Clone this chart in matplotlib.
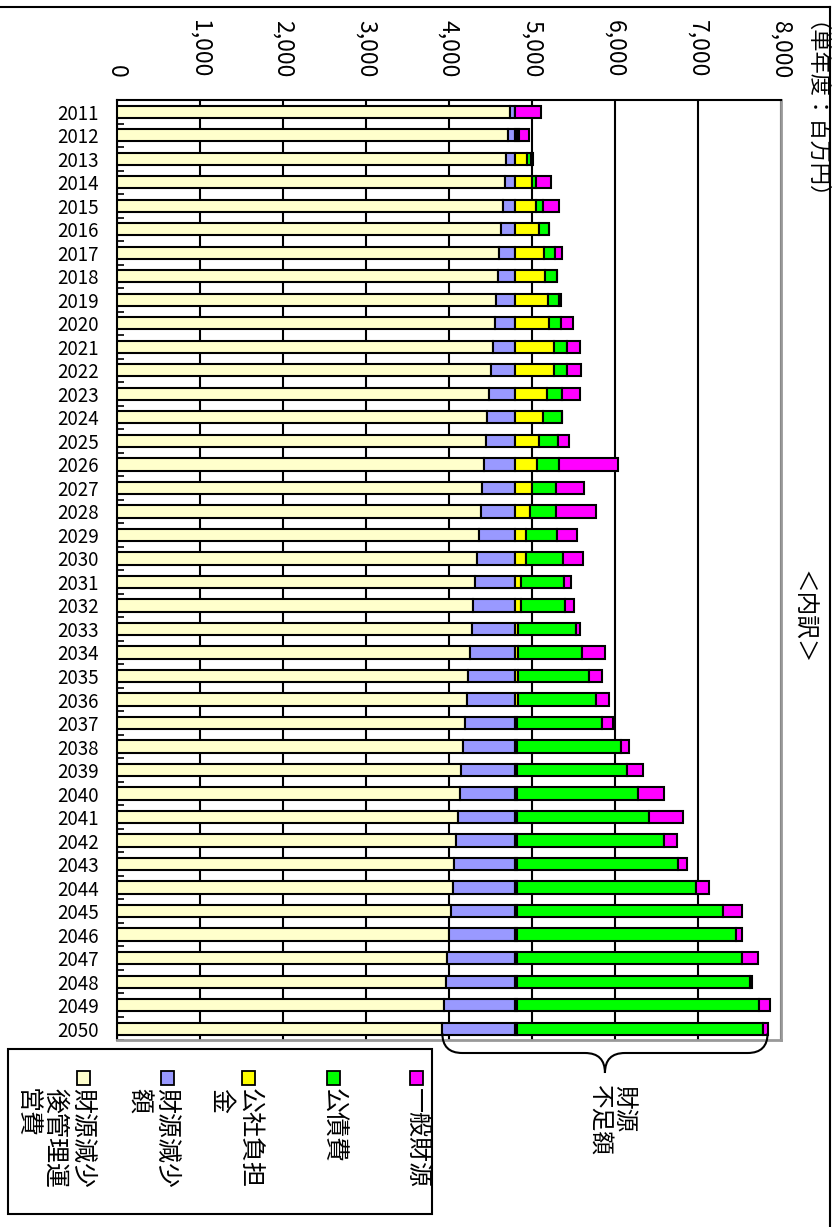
import matplotlib.pyplot as plt
import matplotlib.transforms as mtransforms
import numpy as np
from matplotlib.lines import Line2D
from matplotlib.patches import PathPatch, Rectangle
from matplotlib.path import Path

plt.rcParams["font.family"] = ["Noto Sans CJK JP", "DejaVu Sans"]

years = list(range(2011, 2051))

# 財源減少後管理運営費
kanri = [4740, 4716, 4692, 4672, 4652, 4628, 4608, 4592, 4568, 4552,
         4527, 4511, 4487, 4463, 4443, 4423, 4403, 4383, 4363, 4343,
         4319, 4295, 4275, 4255, 4235, 4214, 4194, 4174, 4150, 4130,
         4106, 4090, 4066, 4046, 4026, 4006, 3982, 3962, 3941, 3921]
# 財源減少額
gensho = [60, 84, 108, 128, 148, 172, 192, 208, 232, 248,
          273, 289, 313, 337, 357, 377, 397, 417, 437, 457,
          481, 505, 525, 545, 565, 586, 606, 626, 650, 670,
          694, 710, 734, 754, 774, 794, 818, 838, 859, 879]
# 公社負担金
kosha = [0, 25, 145, 196, 248, 280, 341, 361, 393, 401,
         461, 461, 385, 337, 280, 260, 200, 176, 128, 128,
         72, 72, 32, 32, 32, 32, 15, 15, 15, 15,
         15, 15, 15, 15, 15, 15, 15, 15, 15, 15]
# 公債費
kosai = [0, 20, 45, 52, 89, 129, 140, 144, 136, 144,
         157, 165, 176, 224, 229, 269, 293, 313, 369, 449,
         509, 529, 699, 775, 860, 936, 1025, 1254, 1326, 1459,
         1591, 1772, 1940, 2165, 2482, 2639, 2711, 2811, 2924, 2972]
# 一般財源
ippan = [305, 116, 25, 177, 188, 0, 84, 0, 25, 153,
         164, 164, 213, 0, 141, 711, 337, 478, 241, 241,
         93, 109, 52, 273, 152, 160, 133, 104, 201, 321,
         418, 156, 113, 153, 237, 76, 193, 28, 132, 52]

# (legend label, values, colour) in stacking order
series = [
    ("財源減少\n後管理運\n営費", kanri, "#FFFFCC"),
    ("財源減少\n額", gensho, "#9999FF"),
    ("公社負担\n金", kosha, "#FFFF00"),
    ("公債費", kosai, "#00FF00"),
    ("一般財源", ippan, "#FF00FF"),
]

W, H = 840, 1227


def fx(x):
    return x / W


def fy(y):
    return 1 - y / H


fig = plt.figure(figsize=(8.4, 12.27), dpi=100)
ax = fig.add_axes([fx(116.7), fy(1040.4), fx(781) - fx(116.7), fy(100) - fy(1040.4)])

pos = np.arange(len(years))
left = np.zeros(len(years))
for label, vals, color in series:
    ax.barh(pos, vals, left=left, height=0.52, color=color,
            edgecolor="black", linewidth=1.5, zorder=3)
    left += np.array(vals)

ax.set_xlim(0, 8000)
ax.set_ylim(len(years) - 0.5, -0.5)

xticks = list(range(0, 8001, 1000))
ax.xaxis.tick_top()
ax.set_xticks(xticks)
ax.set_xticklabels([f"{v:,}" for v in xticks], rotation=-90, fontsize=16.5)
ax.tick_params(axis="x", length=0, pad=16)

ax.set_yticks(pos)
ax.set_yticklabels([str(y) for y in years], fontsize=13.5)
ax.tick_params(axis="y", which="major", length=0, pad=13)
ax.set_yticks(np.arange(-0.5, len(years), 1), minor=True)
ax.tick_params(axis="y", which="minor", direction="in", length=5, width=1.2)

ax.grid(axis="x", color="black", linewidth=1.5)
ax.set_axisbelow(True)

for side in ["top", "left"]:
    ax.spines[side].set_color("black")
    ax.spines[side].set_linewidth(1.5)
for side in ["right", "bottom"]:
    ax.spines[side].set_color("#999999")
    ax.spines[side].set_linewidth(2)

# brace under the last year, from the end of 管理運営費 to the bar end
x0 = kanri[-1]
x1 = left[-1]
xc = (x0 + x1) / 2
r = 240
y_top, y_mid, y_tip = fy(1033), fy(1053), fy(1073)
verts = [
    (x0, y_top), (x0, y_mid), (x0 + r, y_mid),
    (xc - r, y_mid), (xc, y_mid), (xc, y_tip),
    (xc, y_mid), (xc + r, y_mid),
    (x1 - r, y_mid), (x1, y_mid), (x1, y_top),
]
codes = [Path.MOVETO, Path.CURVE3, Path.CURVE3,
         Path.LINETO, Path.CURVE3, Path.CURVE3,
         Path.CURVE3, Path.CURVE3,
         Path.LINETO, Path.CURVE3, Path.CURVE3]
trans = mtransforms.blended_transform_factory(ax.transData, fig.transFigure)
fig.patches.append(PathPatch(Path(verts, codes), transform=trans, fill=False,
                             edgecolor="black", linewidth=1.5, clip_on=False))

fig.text(fx(635), fy(1085), "財源\n不足額", rotation=-90, fontsize=17,
         ha="right", va="top", multialignment="left", linespacing=1.1)

fig.text(fx(803), fy(22), "（単年度：百万円）", rotation=-90, fontsize=16,
         ha="center", va="top")
fig.text(fx(802), fy(617), "＜内訳＞", rotation=-90, fontsize=17,
         ha="center", va="center")

# legend box, drawn by hand because the text is rotated
fig.patches.append(Rectangle((fx(8), fy(1214)), fx(432) - fx(8), fy(1049) - fy(1214),
                             transform=fig.transFigure, fill=False,
                             edgecolor="black", linewidth=1.5))
legend_x = [83, 167, 249, 333, 416]
for (label, vals, color), cx in zip(series, legend_x):
    fig.patches.append(Rectangle((fx(cx - 6.5), fy(1085)), fx(13), fy(1071) - fy(1085),
                                 transform=fig.transFigure, facecolor=color,
                                 edgecolor="black", linewidth=1.3))
    fig.text(fx(cx + 12.5), fy(1088), label, rotation=-90, fontsize=18,
             ha="right", va="top", multialignment="left", linespacing=1.1)

# outer frame (top and right)
fig.add_artist(Line2D([0, fx(830)], [fy(6.7), fy(6.7)], color="black", linewidth=1.5))
fig.add_artist(Line2D([fx(830), fx(830)], [fy(6.7), 0], color="black", linewidth=1.5))

fig.savefig("out.png", dpi=100)
